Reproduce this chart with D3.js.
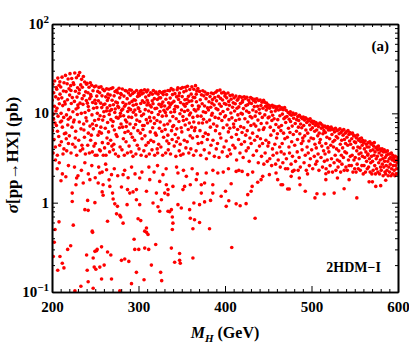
<!DOCTYPE html>
<html>
<head>
<meta charset="utf-8">
<script src="https://cdn.jsdelivr.net/npm/d3@7"></script>
<style>
  html, body { margin: 0; padding: 0; background: #fff; }
  svg text { font-family: "Liberation Serif", "DejaVu Serif", serif; font-weight: bold; }
</style>
</head>
<body>
<svg id="chart"></svg>
<script>
// M_H (GeV) vs sigma (pb), in mass slices
const band200 = [
  [200.2,14.0],[200.5,6.4],[200.9,21.2],[201.3,3.6],[201.7,9.8],[202.0,17.0],[202.4,5.1],[202.8,12.0],[203.1,23.0],[203.5,7.8],[203.9,4.2],[204.2,15.3],[204.6,10.6],[204.9,19.4],[201.9,8.6],
  [205.1,7.3],[205.5,18.6],[205.8,11.4],[206.2,3.4],[206.7,24.8],[207.0,9.3],[207.3,14.5],[207.8,5.5],[208.2,20.6],[208.5,12.8],[208.9,4.4],[209.3,16.4],[209.7,8.0],[206.4,6.3],[209.1,22.5],
  [210.1,19.7],[210.5,10.0],[210.8,4.8],[211.3,14.9],[211.6,25.4],[212.0,7.0],[212.4,12.2],[212.7,3.5],[213.2,17.8],[213.5,9.0],[213.9,22.0],[214.3,5.9],[214.7,13.5],[211.1,8.2],[213.8,4.0],
  [215.2,12.7],[215.6,26.6],[215.9,6.0],[216.3,17.5],[216.7,9.6],[217.0,3.8],[217.5,21.4],[217.9,14.2],[218.2,7.4],[218.6,24.2],[219.0,4.6],[219.3,11.0],[219.7,18.8],[216.5,5.2],[218.9,8.6],
  [220.1,5.6],[220.4,16.0],[220.8,27.8],[221.2,9.0],[221.6,20.4],[222.0,3.6],[222.3,12.9],[222.8,24.5],[223.1,7.0],[223.5,15.0],[223.9,4.5],[224.2,10.4],[224.6,22.0],[221.9,18.0],[224.9,8.0],
  [225.2,21.0],[225.6,8.4],[225.9,13.6],[226.3,28.3],[226.7,4.2],[227.1,17.7],[227.4,6.3],[227.8,11.2],[228.2,25.0],[228.5,3.4],[228.9,15.2],[229.3,9.7],[229.6,19.3],[226.9,5.3],[229.9,12.4],
  [230.1,11.6],[230.5,26.6],[230.9,5.0],[231.2,16.8],[231.6,8.0],[232.0,28.6],[232.4,13.0],[232.7,3.8],[233.2,20.8],[233.5,6.7],[233.9,10.0],[234.2,24.0],[234.6,4.4],[231.8,18.4],[234.9,14.6],
  [235.1,19.6],[235.5,4.0],[235.8,12.6],[236.3,25.8],[236.6,7.6],[237.0,15.8],[237.5,5.4],[237.8,22.4],[238.2,10.2],[238.6,3.5],[238.9,17.4],[239.3,8.9],[239.7,13.9],[236.9,6.5],[239.9,21.2],
  [240.2,8.2],[240.5,21.7],[240.9,13.0],[241.3,4.4],[241.6,17.0],[242.0,6.0],[242.5,10.8],[242.8,19.6],[243.2,3.6],[243.6,14.6],[243.9,7.2],[244.3,22.0],[244.7,5.0],[241.9,11.9],[244.6,16.2],
  [245.1,15.5],[245.5,5.7],[245.9,20.6],[246.2,9.6],[246.6,3.7],[247.0,13.2],[247.4,17.9],[247.8,6.7],[248.1,11.4],[248.5,4.3],[248.9,19.8],[249.3,8.3],[249.7,14.0],[246.8,7.6],[249.9,3.4],
  [250.1,4.6],[250.5,12.9],[250.8,20.2],[251.3,7.3],[251.7,15.6],[252.0,3.4],[252.4,10.0],[252.9,17.6],[253.2,5.7],[253.6,13.8],[253.9,8.6],[254.3,19.5],[254.7,6.2],[251.9,11.6],[254.9,3.9],
  [255.2,17.0],[255.6,9.4],[255.9,3.8],[256.3,13.0],[256.7,19.8],[257.1,6.0],[257.5,11.6],[257.8,15.7],[258.2,4.7],[258.6,8.4],[258.9,18.6],[259.3,3.4],[259.6,12.5],[256.5,7.0],[259.9,10.4]
];

const band260 = [
  [260.1,9.2],[260.5,17.9],[260.8,4.1],[261.2,12.7],[261.6,6.8],[262.1,15.3],[262.4,3.4],[262.9,10.6],[263.2,18.8],[263.6,5.3],[264.0,13.9],[264.3,7.9],[264.7,16.4],[264.9,4.6],[263.8,11.5],
  [265.1,14.8],[265.4,6.2],[265.9,18.6],[266.2,9.7],[266.6,3.7],[267.0,12.2],[267.3,16.0],[267.8,5.0],[268.1,8.5],[268.5,19.0],[268.8,11.0],[269.2,4.3],[269.5,14.0],[269.9,7.2],[266.8,10.6],
  [270.3,19.3],[270.6,8.1],[271.0,12.5],[271.5,4.5],[271.8,15.7],[272.1,6.5],[272.6,10.2],[272.9,17.5],[273.4,3.5],[273.7,13.4],[274.1,5.8],[274.4,9.0],[274.8,18.1],[270.9,3.9],[273.1,11.2],
  [275.2,5.5],[275.6,13.1],[275.9,17.0],[276.4,8.8],[276.8,3.3],[277.1,11.6],[277.5,19.1],[278.0,6.9],[278.3,14.9],[278.7,4.2],[279.1,10.0],[279.5,16.6],[279.8,7.6],[276.1,12.0],[278.9,9.3],
  [280.1,16.2],[280.5,10.8],[280.9,3.9],[281.3,18.7],[281.6,7.0],[282.0,13.2],[282.5,5.2],[282.8,9.4],[283.2,15.6],[283.6,3.4],[283.9,12.0],[284.3,6.1],[284.6,18.0],[284.9,8.4],[281.9,11.2],
  [285.3,12.6],[285.6,4.8],[286.0,17.8],[286.4,8.0],[286.9,14.6],[287.2,3.6],[287.6,10.5],[287.9,6.3],[288.4,16.9],[288.7,9.1],[289.1,4.3],[289.4,13.0],[289.8,18.3],[285.8,7.1],[288.9,11.4],
  [290.2,7.6],[290.6,15.9],[290.9,11.0],[291.3,3.7],[291.8,18.1],[292.1,9.0],[292.5,13.6],[292.9,5.4],[293.3,16.7],[293.6,3.3],[294.0,10.3],[294.4,6.9],[294.8,14.2],[291.1,5.9],[293.9,12.3],
  [295.1,17.2],[295.5,5.0],[295.8,10.9],[296.3,14.0],[296.6,7.5],[297.0,3.5],[297.4,12.6],[297.8,18.0],[298.1,8.4],[298.6,4.4],[298.9,15.4],[299.3,6.4],[299.7,11.5],[296.9,9.6],[299.9,16.6],
  [300.3,11.3],[300.6,4.0],[301.1,15.8],[301.4,8.1],[301.9,17.6],[302.2,6.0],[302.6,12.9],[303.0,3.4],[303.5,9.4],[303.8,16.5],[304.1,5.2],[304.5,13.8],[304.8,7.3],[301.7,10.5],[303.3,18.0],
  [305.1,6.6],[305.5,16.9],[305.9,9.8],[306.2,3.8],[306.7,13.2],[307.0,18.4],[307.5,5.6],[307.8,11.0],[308.3,15.2],[308.6,4.4],[309.0,8.5],[309.4,17.4],[309.8,12.4],[306.5,7.3],[308.9,3.3],
  [310.1,14.0],[310.5,7.8],[310.8,18.2],[311.3,4.7],[311.7,10.6],[312.0,15.9],[312.5,3.5],[312.8,9.0],[313.2,12.3],[313.6,6.2],[314.0,17.0],[314.3,5.0],[314.7,11.8],[311.1,13.1],[313.9,8.2],
  [315.3,10.2],[315.6,3.9],[316.0,16.4],[316.4,6.9],[316.8,12.8],[317.2,18.0],[317.5,4.8],[318.0,8.9],[318.3,14.6],[318.7,3.4],[319.1,11.3],[319.4,6.0],[319.8,16.9],[315.9,13.8],[318.5,7.7],
  [320.2,17.3],[320.5,5.7],[321.0,11.4],[321.3,8.3],[321.8,14.3],[322.1,3.6],[322.6,16.4],[322.9,9.7],[323.3,4.5],[323.7,12.6],[324.1,6.8],[324.4,17.5],[324.8,10.5],[321.6,4.0],[323.9,14.9],
  [325.1,8.0],[325.6,14.9],[325.9,4.2],[326.3,11.9],[326.7,17.0],[327.0,6.3],[327.5,9.3],[327.9,3.4],[328.2,13.4],[328.6,16.2],[329.0,5.4],[329.4,10.8],[329.7,7.4],[326.9,12.7],[328.9,17.4],
  [330.2,12.1],[330.6,17.7],[330.9,6.6],[331.4,3.6],[331.7,14.4],[332.1,9.4],[332.5,16.2],[332.8,4.9],[333.3,11.2],[333.7,7.6],[334.0,18.0],[334.4,3.9],[334.8,13.1],[331.1,10.2],[333.9,5.7],
  [335.1,4.6],[335.5,11.7],[335.9,17.9],[336.3,8.2],[336.6,14.8],[337.0,3.5],[337.4,10.3],[337.8,18.9],[338.2,6.4],[338.5,13.0],[338.9,5.1],[339.3,16.2],[339.7,9.2],[336.8,12.4],[339.5,7.1],
  [340.1,18.3],[340.6,7.3],[340.9,13.6],[341.3,4.3],[341.7,10.4],[342.1,16.6],[342.5,5.8],[342.8,12.0],[343.2,3.3],[343.6,8.7],[344.0,15.3],[344.3,6.7],[344.7,18.4],[341.5,11.1],[343.9,4.8],
  [345.2,11.8],[345.5,19.3],[346.0,5.3],[346.3,14.3],[346.7,8.1],[347.1,3.8],[347.4,16.9],[347.9,9.9],[348.2,4.5],[348.6,13.2],[348.9,19.0],[349.3,6.9],[349.7,10.9],[346.6,15.7],[348.8,3.4],
  [350.1,6.2],[350.5,15.4],[350.9,19.4],[351.3,9.2],[351.6,3.5],[352.1,12.6],[352.4,17.4],[352.9,5.0],[353.2,10.5],[353.6,14.2],[354.0,7.4],[354.4,19.6],[354.8,4.1],[351.9,8.3],[353.9,12.0],
  [355.1,17.9],[355.5,8.6],[355.8,12.9],[356.3,4.8],[356.7,20.1],[357.0,10.8],[357.5,6.6],[357.8,15.5],[358.2,3.6],[358.6,13.6],[358.9,9.6],[359.3,18.5],[359.7,5.6],[356.1,14.4],[358.8,7.8],
  [360.2,10.1],[360.5,4.0],[360.9,16.4],[361.4,7.0],[361.7,19.8],[362.1,12.2],[362.5,5.3],[362.9,9.0],[363.3,15.1],[363.7,3.4],[364.0,18.6],[364.4,11.0],[364.8,6.4],[361.6,13.8],[363.9,8.0],
  [365.1,15.0],[365.5,6.9],[365.9,20.4],[366.2,10.6],[366.6,3.8],[367.0,13.5],[367.4,17.8],[367.9,5.5],[368.2,9.3],[368.6,19.0],[369.0,4.6],[369.3,12.1],[369.7,7.8],[366.8,16.4],[368.9,11.2]
];

const band370 = [
  [370.2,11.9],[370.6,17.6],[371.1,6.4],[371.4,14.2],[371.9,3.4],[372.3,9.3],[372.8,16.1],[373.1,4.7],[373.6,12.8],[374.0,7.8],[374.3,17.9],[374.7,5.5],[374.9,10.4],
  [375.2,8.6],[375.5,15.7],[376.0,3.9],[376.4,12.1],[376.7,17.3],[377.3,6.0],[377.6,10.2],[378.1,14.6],[378.5,3.1],[378.9,8.0],[379.2,16.4],[379.6,5.1],[379.9,11.5],
  [380.1,16.7],[380.6,5.8],[380.9,10.9],[381.5,13.5],[381.8,3.6],[382.2,8.4],[382.7,15.4],[383.1,7.0],[383.5,11.7],[383.8,4.4],[384.2,16.9],[384.6,9.5],[384.9,13.0],
  [385.3,10.0],[385.6,14.3],[386.1,5.0],[386.5,16.6],[386.8,7.6],[387.4,12.4],[387.7,3.3],[388.2,15.0],[388.6,9.0],[389.0,6.4],[389.3,17.2],[389.7,11.3],[389.9,4.0],
  [390.2,13.8],[390.7,7.2],[391.0,17.9],[391.4,4.6],[391.8,11.0],[392.3,15.5],[392.6,8.8],[393.1,3.2],[393.5,12.7],[393.9,5.9],[394.2,18.2],[394.6,9.9],[394.9,14.7],
  [395.2,5.3],[395.6,12.0],[396.1,16.9],[396.4,8.3],[396.8,3.7],[397.2,14.1],[397.7,10.5],[398.0,6.9],[398.5,17.2],[398.9,4.2],[399.3,12.9],[399.6,9.1],[399.9,15.6],
  [400.3,16.5],[400.6,9.4],[401.1,12.6],[401.4,4.9],[401.9,14.9],[402.3,7.4],[402.7,3.3],[403.2,11.1],[403.5,16.9],[403.9,6.2],[404.3,13.6],[404.6,8.5],[404.9,3.9],
  [405.1,12.3],[405.5,6.8],[405.9,15.8],[406.4,3.5],[406.8,10.1],[407.1,14.4],[407.6,5.4],[408.0,8.9],[408.5,16.0],[408.8,11.7],[409.2,4.4],[409.5,13.1],[409.9,7.6],
  [410.3,7.0],[410.6,14.9],[411.1,10.6],[411.5,4.1],[411.8,12.8],[412.3,8.3],[412.6,15.6],[413.1,5.8],[413.4,3.0],[413.9,11.4],[414.2,14.0],[414.6,6.6],[414.9,9.6],
  [415.2,14.5],[415.7,5.1],[416.0,11.8],[416.5,8.6],[416.9,15.4],[417.3,3.6],[417.8,12.9],[418.1,7.1],[418.6,10.0],[418.9,4.5],[419.3,15.1],[419.7,6.1],[419.9,13.3],
  [420.1,9.8],[420.5,13.9],[421.0,3.2],[421.3,11.3],[421.8,6.9],[422.2,15.3],[422.6,4.8],[423.0,8.7],[423.5,14.7],[423.9,5.7],[424.2,12.2],[424.5,3.8],[424.9,10.6],
  [425.3,15.1],[425.7,6.4],[426.1,12.5],[426.4,8.0],[426.9,4.1],[427.2,14.0],[427.7,10.2],[428.0,2.9],[428.4,13.1],[428.8,5.3],[429.2,9.2],[429.6,15.0],[429.9,7.3],
  [430.2,4.6],[430.6,12.9],[431.1,8.9],[431.4,14.6],[431.9,6.0],[432.2,10.9],[432.7,3.4],[433.0,13.9],[433.5,7.6],[433.9,11.9],[434.3,5.0],[434.6,14.4],[434.9,9.3],
  [435.3,13.4],[435.6,7.2],[436.0,10.4],[436.5,3.8],[436.8,14.5],[437.3,5.5],[437.6,12.0],[438.1,8.4],[438.5,2.8],[438.9,13.9],[439.2,6.5],[439.6,11.1],[439.9,4.3],
  [440.2,10.0],[440.7,14.1],[441.0,5.2],[441.5,12.2],[441.8,7.7],[442.2,3.3],[442.7,13.3],[443.1,9.0],[443.4,4.6],[443.9,11.4],[444.3,6.6],[444.6,14.0],[444.9,2.7],
  [445.2,6.9],[445.7,13.3],[446.0,9.6],[446.4,3.6],[446.9,12.0],[447.3,5.0],[447.7,10.9],[448.1,13.0],[448.4,7.8],[448.9,2.9],[449.2,11.6],[449.6,4.3],[449.9,8.9],
  [450.2,12.4],[450.6,4.7],[451.0,9.1],[451.5,11.4],[451.8,3.1],[452.3,7.0],[452.7,12.1],[453.0,5.7],[453.5,10.4],[453.9,2.6],[454.2,8.3],[454.6,12.3],[454.9,4.0],
  [455.1,9.5],[455.6,3.4],[456.0,11.7],[456.3,6.4],[456.8,8.7],[457.2,12.0],[457.6,4.5],[458.1,10.6],[458.5,2.7],[458.8,7.5],[459.3,11.3],[459.7,5.3],[459.9,3.6],
  [460.2,11.8],[460.6,5.9],[461.0,8.5],[461.5,3.0],[461.9,10.9],[462.2,7.0],[462.7,12.0],[463.2,4.2],[463.5,9.4],[463.9,2.5],[464.3,11.1],[464.6,6.4],[464.9,3.7],
  [465.3,7.3],[465.6,11.5],[466.1,4.6],[466.4,9.8],[466.9,2.8],[467.2,11.0],[467.7,6.0],[468.1,8.7],[468.4,3.5],[468.9,11.6],[469.2,5.2],[469.6,9.0],[469.9,2.4]
];

const band470 = [
  [470.2,7.9],[470.7,10.8],[471.0,3.1],[471.6,9.2],[472.1,5.4],[472.5,2.4],[473.0,10.2],[473.4,6.8],[473.9,4.2],[474.2,8.6],[474.6,3.6],[474.9,9.8],
  [475.1,6.1],[475.5,10.4],[475.8,8.1],[476.4,2.7],[476.9,9.5],[477.1,4.8],[477.7,7.2],[478.0,3.3],[478.6,10.1],[479.0,5.8],[479.4,8.8],[479.9,2.3],
  [480.3,9.7],[480.6,4.4],[481.2,7.7],[481.5,2.9],[482.0,9.9],[482.6,6.3],[482.9,8.5],[483.5,3.7],[483.8,5.1],[484.1,9.2],[484.6,2.3],[484.9,7.0],
  [485.2,8.3],[485.7,3.2],[486.0,9.5],[486.5,5.9],[487.1,2.5],[487.4,7.6],[487.9,9.0],[488.3,4.6],[488.7,6.9],[489.1,3.9],[489.6,8.7],[489.9,5.3],
  [490.1,4.9],[490.5,9.1],[491.0,7.3],[491.4,2.8],[491.9,8.4],[492.2,5.6],[492.8,3.4],[493.2,8.9],[493.5,6.5],[494.0,2.3],[494.5,7.9],[494.9,4.2],
  [495.3,8.6],[495.6,6.0],[496.2,3.6],[496.6,8.2],[497.0,4.9],[497.5,2.6],[497.9,7.4],[498.4,8.7],[498.7,3.1],[499.2,6.6],[499.5,5.3],[499.9,8.0],
  [500.2,3.9],[500.6,8.2],[501.1,6.9],[501.4,2.4],[501.9,7.7],[502.3,5.2],[502.8,8.1],[503.2,3.3],[503.7,6.3],[504.0,4.5],[504.5,7.3],[504.8,2.7],
  [505.1,7.9],[505.5,4.1],[506.0,6.5],[506.3,2.9],[506.8,7.6],[507.2,5.6],[507.6,3.5],[508.1,7.1],[508.6,2.3],[508.9,6.0],[509.3,4.7],[509.7,7.8],
  [510.2,5.1],[510.5,7.7],[511.0,3.2],[511.4,6.8],[511.9,4.3],[512.3,7.4],[512.7,2.5],[513.2,5.9],[513.6,7.0],[514.0,3.8],[514.4,6.4],[514.9,2.9],
  [515.3,7.2],[515.7,3.5],[516.0,6.1],[516.6,4.6],[516.9,2.4],[517.4,6.9],[517.8,5.4],[518.2,3.0],[518.7,7.1],[519.0,4.1],[519.5,6.5],[519.8,2.2],
  [520.1,3.7],[520.6,6.9],[521.0,5.2],[521.5,2.6],[521.8,6.5],[522.3,4.4],[522.7,7.0],[523.1,3.1],[523.6,5.8],[524.0,6.7],[524.3,2.2],[524.8,4.8],
  [525.2,6.6],[525.5,4.2],[526.1,2.8],[526.5,6.2],[526.8,5.0],[527.4,3.4],[527.7,6.8],[528.2,2.3],[528.6,5.5],[529.0,4.0],[529.4,6.4],[529.9,3.0],
  [530.3,5.3],[530.7,2.5],[531.1,6.5],[531.5,3.8],[532.0,5.9],[532.4,2.9],[532.9,6.7],[533.3,4.5],[533.7,2.2],[534.1,6.1],[534.5,3.4],[534.9,5.0],
  [535.2,2.7],[535.6,6.4],[536.0,4.1],[536.5,5.7],[536.9,3.2],[537.3,6.6],[537.8,2.3],[538.1,5.1],[538.6,3.7],[539.0,6.0],[539.4,4.6],[539.8,2.5],
  [540.1,6.2],[540.5,3.6],[541.0,5.4],[541.4,2.3],[541.9,4.4],[542.2,6.4],[542.7,3.0],[543.2,5.8],[543.5,2.6],[544.0,4.9],[544.4,6.1],[544.9,3.3],
  [545.3,4.5],[545.6,5.9],[546.1,2.6],[546.5,5.2],[547.0,3.4],[547.4,6.0],[547.9,2.2],[548.3,4.1],[548.7,5.6],[549.1,3.0],[549.6,4.8],[549.9,2.4],
  [550.2,5.6],[550.6,3.2],[551.0,4.7],[551.5,2.2],[551.9,5.3],[552.3,3.8],[552.8,2.7],[553.2,5.7],[553.6,4.2],[554.1,2.4],[554.4,5.0],[554.9,3.5],
  [555.1,3.1],[555.5,5.2],[556.0,4.1],[556.4,2.3],[556.9,4.8],[557.2,3.6],[557.7,5.3],[558.2,2.6],[558.6,4.4],[558.9,3.3],[559.3,5.0],[559.8,2.1],
  [560.2,4.7],[560.7,2.6],[561.1,4.0],[561.5,3.2],[562.0,4.9],[562.4,2.2],[562.9,3.7],[563.3,4.5],[563.7,2.9],[564.2,4.2],[564.5,2.4],[564.9,3.4],
  [565.3,3.5],[565.7,4.7],[566.0,2.5],[566.5,4.2],[566.9,3.1],[567.4,4.8],[567.8,2.2],[568.2,3.8],[568.5,2.8],[569.0,4.5],[569.4,3.3],[569.8,2.1],
  [570.1,4.6],[570.6,2.9],[571.0,3.9],[571.3,2.3],[571.8,4.3],[572.3,3.4],[572.6,4.7],[573.1,2.6],[573.5,3.7],[574.0,2.1],[574.4,4.1],[574.8,3.1],
  [575.2,2.4],[575.6,4.2],[576.1,3.3],[576.5,3.9],[576.8,2.2],[577.3,4.3],[577.7,2.8],[578.2,3.6],[578.7,2.1],[579.0,4.0],[579.5,3.0],[579.8,2.5],
  [580.3,3.8],[580.6,2.3],[581.1,3.4],[581.6,4.0],[581.9,2.7],[582.4,3.1],[582.8,2.0],[583.3,3.7],[583.6,2.5],[584.1,3.9],[584.5,2.9],[584.9,2.2],
  [585.2,3.2],[585.7,2.1],[586.0,3.7],[586.4,2.6],[586.9,3.4],[587.3,2.3],[587.8,3.8],[588.1,2.9],[588.6,2.0],[589.0,3.5],[589.4,2.5],[589.9,3.1],
  [590.2,2.2],[590.6,3.5],[591.1,2.7],[591.4,3.2],[591.9,2.0],[592.3,3.6],[592.7,2.4],[593.2,3.0],[593.7,2.1],[594.0,3.4],[594.5,2.6],[594.8,3.1],
  [595.1,3.2],[595.6,2.3],[596.0,2.9],[596.4,2.0],[596.9,3.3],[597.2,2.6],[597.7,2.1],[598.1,3.0],[598.5,2.4],[599.0,2.8],[599.4,2.1],[599.8,3.2]
];

// scattered points under the band
const scatterMid = [
  [204,3.0],[206,2.4],[212,2.1],[216,1.95],[219,2.6],[226,2.5],[230,2.0],[234,2.3],[238,2.8],
  [242,2.1],[246,2.6],[250,1.9],[254,2.5],[258,2.2],[262,2.7],[266,1.8],[272,2.4],[276,2.0],
  [284,2.3],[288,1.9],[292,2.5],[296,2.1],[304,2.2],[312,2.5],[318,2.2],[322,2.6],[332,2.4],
  [344,2.5],[352,2.3],[362,2.4],[368,2.1],[386,2.3],[398,2.2],[404,2.4],[416,2.3],[432,2.2],
  [208.4,2.8],[210.4,1.76],[223.4,1.28],[223.4,1.03],[241.2,1.06],[249.6,1.0],[258,1.32],
  [259.1,1.21],[270,1.28],[270.7,1.1],[272.6,0.97],[275.7,0.91],[287.3,1.4],[289.9,1.28],
  [293.7,1.32],[286.8,0.95],[228.5,1.89],[227.7,1.59],[236.1,1.66],[243.8,1.81],[253.4,1.66],
  [259.1,1.59],[266.9,1.52],[280.3,1.5],[297.6,1.4],[309.2,1.34],[320.7,1.28],[316.8,0.99],
  [330.3,1.28],[297.6,1.08],[301.4,0.95],[263.1,2.34],[255.3,2.15],[268.8,2.06],[282.2,2.06],
  [301.4,1.89],[313,1.81],[324.5,1.73],[334.1,1.4],[345.6,0.95],[349.5,0.87],[359.1,0.835],
  [364,0.99],[370.6,0.95],[376.4,1.02],[383.3,1.06],[401.4,0.91],[404.4,1.05],[412.9,0.97],
  [417.5,0.925],[424.4,0.975],[395.6,1.18],[400.6,1.34],[407.1,1.63],[372.6,1.28],[385.9,1.28],
  [326.5,1.08],[334.1,1.23],[430.2,1.34],[426.3,1.23],[431.4,1.52],[437.8,1.69],[441.7,1.81],
  [443.6,1.97],[451.3,2.06],[459,2.15],[464.8,1.59],[460.9,1.81],[472.4,1.42],[412.9,2.24],
  [419.8,2.24],[426.3,2.06],[391.7,2.15],[378.3,2.15],[385.9,1.59],[376.4,1.66],[366.8,1.81],
  [372.6,1.59],[359.9,1.59],[353.3,1.52],[351.4,1.4],[339.8,1.52],[332.2,1.59],[328.3,2.06],
  [345.6,2.15],[355.3,1.97],[504,1.13],[506.3,1.26],[514.7,1.25],[526.2,1.28],[537.7,1.43],
  [552.4,1.13],[492.8,1.34],[474.3,1.42],[466.6,1.59],[486.7,1.59],[495.4,2.1],[485.9,1.89],
  [516.6,1.81],[516.6,2.11],[530,1.89],[543.5,1.81],[566.6,1.71],[570.4,1.71],[574.3,1.52],
  [580,1.55],[585.8,1.78],[476.5,1.97],[478.1,2.24]
];

const scatterLow = [
  [202.6,0.36],[201.5,0.25],[209.2,0.25],[206.6,0.175],[211.9,0.21],[213.8,0.186],[218.1,0.3],
  [221.6,0.33],[233.4,0.116],[241.8,0.13],[240.7,0.175],[240,0.26],[247.6,0.24],[249.6,0.285],
  [251.5,0.29],[252.2,0.3],[257.3,0.32],[248.8,0.19],[250.7,0.18],[255.3,0.19],[260.3,0.2],
  [257.3,0.14],[246.9,0.465],[247.6,0.11],[264.2,0.28],[268,0.26],[268.8,0.14],[280.3,0.226],
  [284.1,0.234],[288.8,0.22],[291.9,0.124],[295.7,0.3],[297.6,0.166],[294.9,0.39],[226.5,0.103],
  [278.4,0.103],[203.5,0.5],[224.6,0.56],[208.1,0.61],[238,0.835],[241.8,0.82],[246.5,0.48],
  [264.2,0.62],[278.4,0.72],[279.5,0.69],[274.6,0.75],[282.2,0.59],[299.5,0.66],[302.6,0.63],
  [309.2,0.52],[309.2,0.465],[322.5,0.9],[334.1,0.8],[339.1,0.5],[362.9,0.51],[382.1,0.51],
  [339.8,0.59],[339.1,0.69],[336,0.79],[338,0.835],[359.9,0.67],[364.8,0.645],[370.6,0.6],
  [434.8,0.67],[324.5,0.8],[307.2,0.48],[311,0.44],[300.3,0.3],[307.2,0.31],[311.8,0.3],
  [319.9,0.34],[314.9,0.2],[306.4,0.137],[325.6,0.166],[326.8,0.134],[338,0.31],[347.5,0.27],
  [341.8,0.215],[347.5,0.226],[348.3,0.21],[362.9,0.24],[407.8,0.315]
];

const xMajor = [200, 300, 400, 500, 600];
const yMajor = [0.1, 1, 10, 100];
const yLabels = [["10", "\u22121"], ["1", null], ["10", null], ["10", "2"]];

const W = 409, H = 344;
const margin = {left: 52, right: 11, top: 24, bottom: 52};

const svg = d3.select("#chart").attr("width", W).attr("height", H);

const x = d3.scaleLinear().domain([200, 600]).range([margin.left, W - margin.right]);
const y = d3.scaleLog().domain([0.1, 100]).range([H - margin.bottom, margin.top]);

const pts = band200.concat(band260, band370, band470, scatterMid, scatterLow);

svg.append("clipPath").attr("id", "plotclip")
  .append("rect")
  .attr("x", x(200)).attr("y", y(100))
  .attr("width", x(600) - x(200)).attr("height", y(0.1) - y(100));

svg.append("g")
  .attr("clip-path", "url(#plotclip)")
  .selectAll("circle")
  .data(pts)
  .join("circle")
  .attr("cx", d => x(d[0]))
  .attr("cy", d => y(d[1]))
  .attr("r", 1.8)
  .attr("fill", "#ff0000");

// minor ticks
const xMinor = d3.range(210, 600, 10).filter(v => v % 100 !== 0);
const yMinor = [];
[0.1, 1, 10].forEach(d => { for (let k = 2; k <= 9; k++) yMinor.push(d * k); });

function styleAxis(g) {
  g.select(".domain").attr("stroke", "#000").attr("stroke-width", 1.6);
  g.selectAll(".tick line").attr("stroke", "#000").attr("stroke-width", 1);
}

const bottomY = y(0.1), topY = y(100), leftX = x(200), rightX = x(600);

svg.append("g").attr("transform", `translate(0,${bottomY})`)
  .call(d3.axisBottom(x).tickValues(xMinor).tickSize(-3).tickSizeOuter(0).tickFormat(""))
  .call(styleAxis);
svg.append("g").attr("transform", `translate(0,${topY})`)
  .call(d3.axisTop(x).tickValues(xMinor).tickSize(-3).tickSizeOuter(0).tickFormat(""))
  .call(styleAxis);
svg.append("g").attr("transform", `translate(${leftX},0)`)
  .call(d3.axisLeft(y).tickValues(yMinor).tickSize(-3).tickSizeOuter(0).tickFormat(""))
  .call(styleAxis);
svg.append("g").attr("transform", `translate(${rightX},0)`)
  .call(d3.axisRight(y).tickValues(yMinor).tickSize(-3).tickSizeOuter(0).tickFormat(""))
  .call(styleAxis);

// major ticks
const xAxis = svg.append("g").attr("transform", `translate(0,${bottomY})`)
  .call(d3.axisBottom(x).tickValues(xMajor).tickSize(-6).tickSizeOuter(0).tickPadding(9).tickFormat(d3.format("d")))
  .call(styleAxis);
xAxis.selectAll("text")
  .attr("fill", "#000")
  .style("font-family", "'Liberation Serif', serif")
  .style("font-weight", "bold")
  .style("font-size", "15px");

svg.append("g").attr("transform", `translate(0,${topY})`)
  .call(d3.axisTop(x).tickValues(xMajor).tickSize(-6).tickSizeOuter(0).tickFormat(""))
  .call(styleAxis);
svg.append("g").attr("transform", `translate(${leftX},0)`)
  .call(d3.axisLeft(y).tickValues(yMajor).tickSize(-6).tickSizeOuter(0).tickFormat(""))
  .call(styleAxis);
svg.append("g").attr("transform", `translate(${rightX},0)`)
  .call(d3.axisRight(y).tickValues(yMajor).tickSize(-6).tickSizeOuter(0).tickFormat(""))
  .call(styleAxis);

// y tick labels with superscripts
const yl = svg.append("g").selectAll("text")
  .data(yMajor)
  .join("text")
  .attr("x", leftX - 3)
  .attr("y", d => y(d) + 5)
  .attr("text-anchor", "end")
  .style("font-size", "15px");
yl.each(function(d, i) {
  const t = d3.select(this);
  const [base, sup] = yLabels[i];
  t.append("tspan").text(base);
  if (sup) t.append("tspan").attr("dy", -6).style("font-size", "11px").text(sup);
});

// axis titles
const xt = svg.append("text")
  .attr("x", (leftX + rightX) / 2)
  .attr("y", 338)
  .attr("text-anchor", "middle")
  .style("font-size", "16px");
xt.append("tspan").style("font-style", "italic").text("M");
xt.append("tspan").attr("dy", 4).style("font-style", "italic").style("font-size", "11px").text("H");
xt.append("tspan").attr("dy", -4).text(" (GeV)");

// y title: sized to span about 124px, centred at y = 155
const ytitle = svg.append("text")
  .attr("text-anchor", "start")
  .style("font-size", "16px");
ytitle.append("tspan").style("font-style", "italic").text("\u03c3");
ytitle.append("tspan").text("[pp\u2192HX] (pb)");
const w16 = ytitle.node().getBBox().width;
const fs = Math.max(12, Math.min(17, 16 * 124 / w16));
ytitle.style("font-size", fs + "px");
const wFit = ytitle.node().getBBox().width;
ytitle.attr("transform", `translate(18,${155 + wFit / 2}) rotate(-90)`);

svg.append("text")
  .attr("x", rightX - 9).attr("y", topY + 27)
  .attr("text-anchor", "end")
  .style("font-size", "15px")
  .text("(a)");

svg.append("text")
  .attr("x", rightX - 17).attr("y", bottomY - 20.5)
  .attr("text-anchor", "end")
  .style("font-size", "14px")
  .text("2HDM\u2212I");
</script>
</body>
</html>
